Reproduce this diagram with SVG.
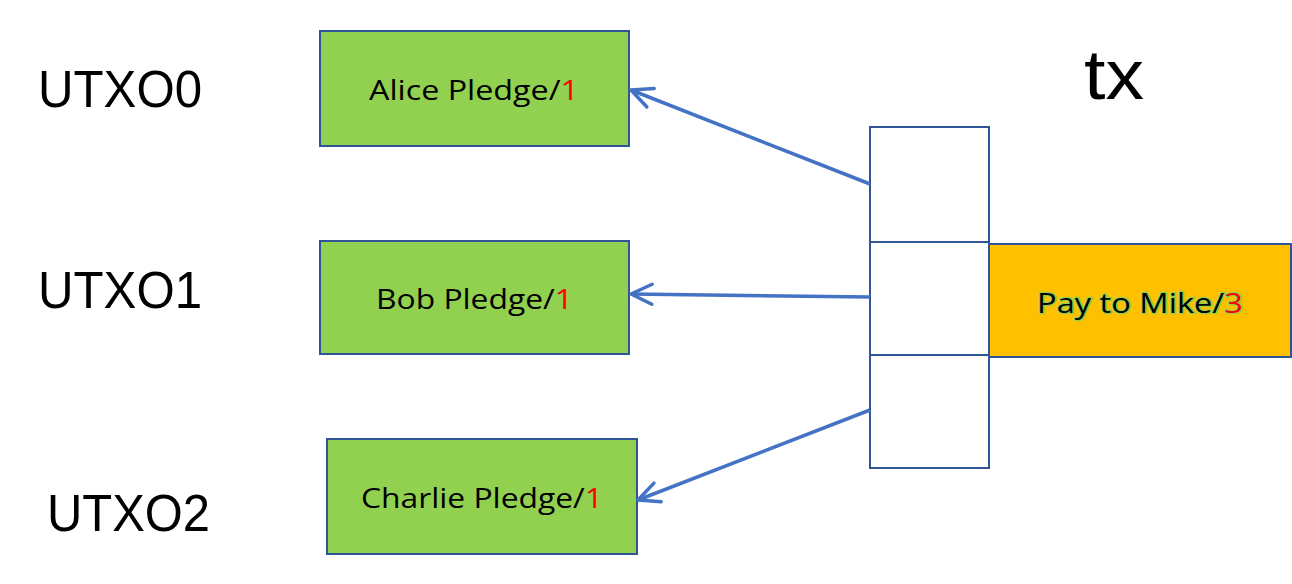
<svg xmlns="http://www.w3.org/2000/svg" width="1292" height="584" viewBox="0 0 1292 584">
<style>
.lbl{font-family:"Liberation Sans",Arial,sans-serif;font-size:52px;fill:#000}
.box{fill:#92D050;stroke:#2F5597;stroke-width:2}
.cell{fill:#fff;stroke:#2F5597;stroke-width:2}
.pay{fill:#FFC000;stroke:#2F5597;stroke-width:2}
.t{font-family:"Open Sans","Liberation Sans",sans-serif;font-size:27px;fill:#000}
.r{fill:#FF0000}
.glow{paint-order:stroke;stroke:#92D050;stroke-width:2.5px;stroke-linejoin:round}
.edge{stroke:#4472C4;stroke-width:3.5;fill:none;marker-end:url(#arr)}
</style>
<defs>
<marker id="arr" viewBox="-24 -14 28 28" refX="0" refY="0" markerWidth="28" markerHeight="28" markerUnits="userSpaceOnUse" orient="auto" overflow="visible">
<path d="M-21,-10 L0,0 L-21,10" fill="none" stroke="#4472C4" stroke-width="3.5" stroke-linecap="round" stroke-linejoin="round"/>
</marker>
</defs>
<g id="labels">
<text class="lbl" x="38" y="107" textLength="164" lengthAdjust="spacingAndGlyphs">UTXO0</text>
<text class="lbl" x="38" y="308" textLength="164" lengthAdjust="spacingAndGlyphs">UTXO1</text>
<text class="lbl" x="47" y="531" textLength="163" lengthAdjust="spacingAndGlyphs">UTXO2</text>
<text class="lbl" x="1084" y="99" style="font-size:70px" textLength="60" lengthAdjust="spacingAndGlyphs">tx</text>
</g>
<g id="alice">
<rect class="box" x="320" y="31" width="309" height="115"/>
<text class="t" x="369" y="100" textLength="210" lengthAdjust="spacingAndGlyphs">Alice Pledge/<tspan class="r">1</tspan></text>
</g>
<g id="bob">
<rect class="box" x="320" y="241" width="309" height="113"/>
<text class="t" x="376" y="309" textLength="197" lengthAdjust="spacingAndGlyphs">Bob Pledge/<tspan class="r">1</tspan></text>
</g>
<g id="charlie">
<rect class="box" x="327" y="439" width="310" height="115"/>
<text class="t" x="361" y="508" textLength="242" lengthAdjust="spacingAndGlyphs">Charlie Pledge/<tspan class="r">1</tspan></text>
</g>
<g id="tx">
<rect class="cell" x="870" y="127" width="119" height="115"/>
<rect class="cell" x="870" y="242" width="119" height="113"/>
<rect class="cell" x="870" y="355" width="119" height="113"/>
</g>
<g id="pay">
<rect class="pay" x="989" y="244" width="302" height="113"/>
<text class="t glow" x="1037" y="313" textLength="206" lengthAdjust="spacingAndGlyphs">Pay to Mike/<tspan class="r">3</tspan></text>
</g>
<g id="connectors">
<line class="edge" x1="870" y1="184" x2="631" y2="90"/>
<line class="edge" x1="870" y1="297" x2="631" y2="294"/>
<line class="edge" x1="870" y1="410" x2="638" y2="500"/>
</g>
</svg>
